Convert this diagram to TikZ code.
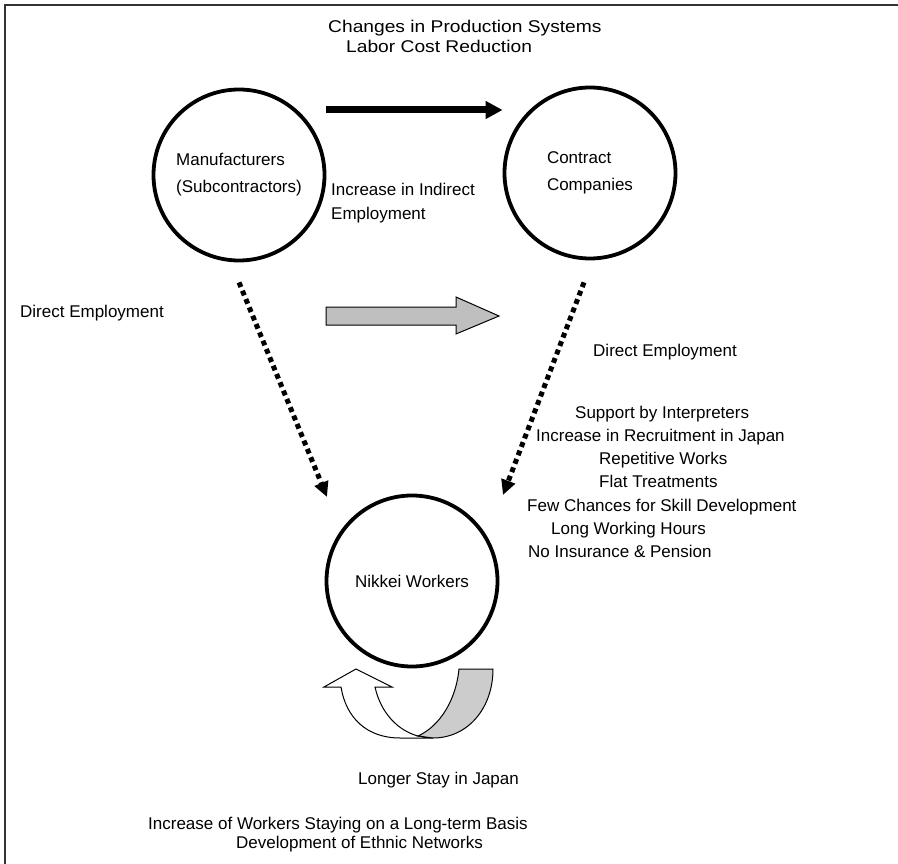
\documentclass[tikz,border=0pt]{standalone}
\usepackage{fontspec}
\setmainfont{Liberation Sans}
\newfontfamily\widefont[FakeStretch=1.13]{Liberation Sans}
\usetikzlibrary{arrows.meta,calc,positioning}

\begin{document}
\begin{tikzpicture}[x=1pt, y=-1pt, font=\fontsize{17}{24}\selectfont]
    \tikzset{>=Triangle}
    % Styles
    \tikzstyle{actor}    = [circle, draw = black, line width = 3.8pt, minimum size = 171pt, align = left, font = \fontsize{17}{27}\selectfont]
    \tikzstyle{txt}      = [anchor = west, inner sep = 0pt, text height = 12pt, text depth = 0pt]
    \tikzstyle{txtblock} = [anchor = north west, inner sep = 0pt, align = left, text height = 12pt, text depth = 0pt]
    \tikzstyle{flow}     = [line width = 7pt, -{Triangle[length = 17pt, width = 17pt]}]
    \tikzstyle{hire}     = [line width = 5pt, dash pattern = on 5pt off 4pt, -{Triangle[length = 15pt, width = 14pt]}]
    \tikzstyle{bigarrow} = [draw = black, line width = 1pt, fill = black!25]
    \tikzstyle{frame}    = [draw = black!80, line width = 1.5pt]

    \useasboundingbox (0,0) rectangle (898,864);
    \draw[frame] (5,864) -- (5,5) -- (898,5);

    % Title
    \node[txt, font = \widefont\fontsize{17}{24}\selectfont] (title) at (328,27) {Changes in Production Systems};
    \node[txt, font = \widefont\fontsize{17}{24}\selectfont] (cost)  at (346,47) {Labor Cost Reduction};

    % Actors
    \node[actor] (manu)   at (239,175) {Manufacturers\\(Subcontractors)};
    \node[actor] (comp)   at (590,173) {Contract\\Companies};
    \node[actor] (nikkei) at (412,581) {Nikkei Workers};

    % Labels
    \node[txtblock] (indirect) at (331,207) {Increase in Indirect\\Employment};
    \node[txt] (directL) at (20,311)  {Direct Employment};
    \node[txt] (directR) at (593,350) {Direct Employment};

    \node[txt] (interp)  at (575,412) {Support by Interpreters};
    \node[txt] (recruit) at (536,435) {Increase in Recruitment in Japan};
    \node[txt] (repeat)  at (599,458) {Repetitive Works};
    \node[txt] (flat)    at (599,481) {Flat Treatments};
    \node[txt] (skill)   at (527,505) {Few Chances for Skill Development};
    \node[txt] (hours)   at (551,528) {Long Working Hours};
    \node[txt] (pension) at (528,551) {No Insurance \& Pension};

    \node[txt] (stay)    at (358,778) {Longer Stay in Japan};
    \node[txt] (longterm) at (148,823) {Increase of Workers Staying on a Long-term Basis};
    \node[txt] (ethnic)  at (236,842) {Development of Ethnic Networks};

    % Connectors
    \draw[flow] ([yshift = 65pt]manu.east) -- ([yshift = 63pt]comp.west);
    \draw[hire] ([yshift = -20pt]manu.south) -- ($(nikkei.center)+(-85,-84)$);
    \draw[hire] ([xshift = -6pt, yshift = -22pt]comp.south) -- ($(nikkei.center)+(91,-86)$);

    % Block arrows
    \draw[bigarrow] (326,307) -- (456,307) -- (456,297) -- (499,316) -- (456,334) -- (456,325) -- (326,325) -- cycle;
    \draw[bigarrow, fill = white] (356,669) -- (392,687) -- (375,687) .. controls (381,714) and (399,731) .. (418,736)
        -- (433,738) -- (400,738) .. controls (367,738) and (346,718) .. (341,687) -- (324,687) -- cycle;
    \draw[bigarrow, fill = black!20] (459,669) -- (493,669) .. controls (493,708) and (468,738) .. (433,738)
        -- (418,736) .. controls (440,726) and (456,700) .. (459,669) -- cycle;
\end{tikzpicture}
\end{document}
